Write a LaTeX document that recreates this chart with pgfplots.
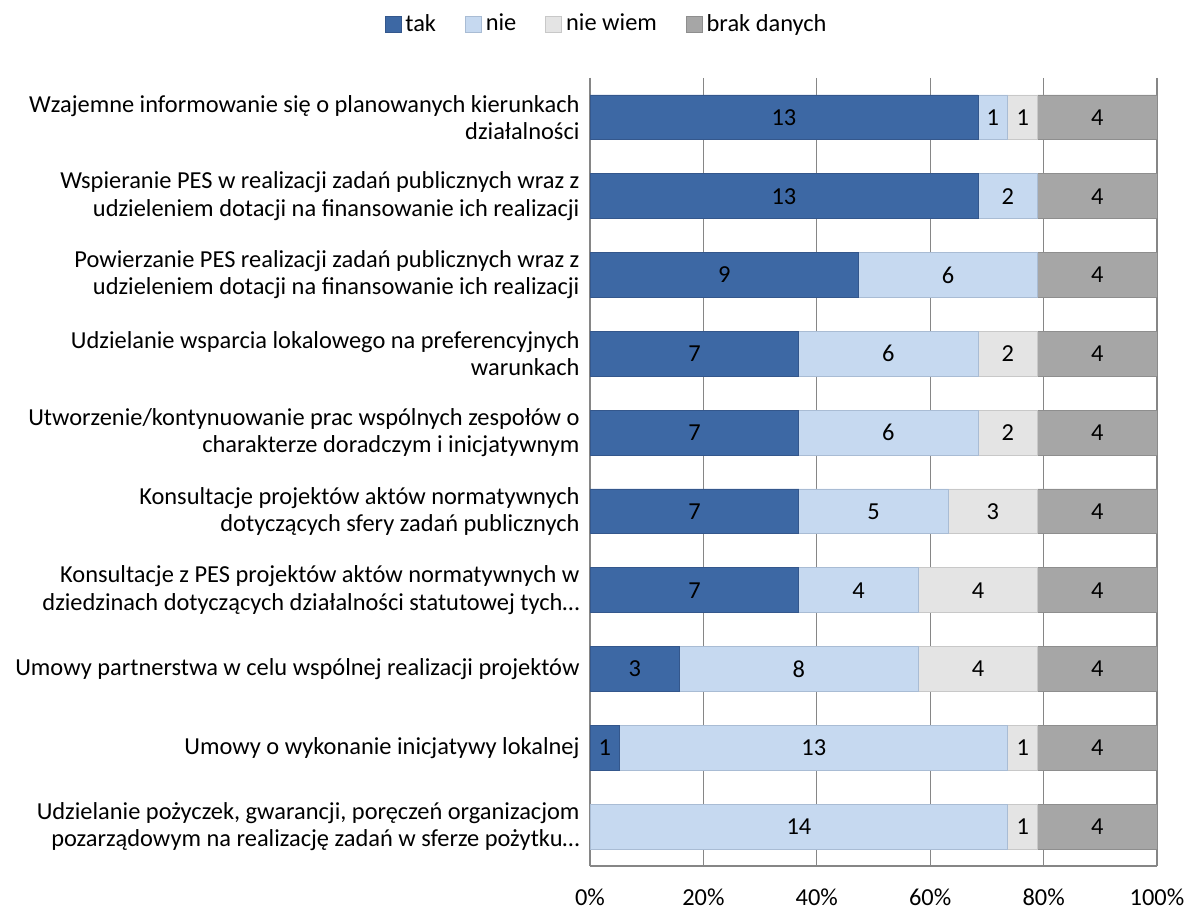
\documentclass[border=0pt]{standalone}
\usepackage{pgfplots}
\pgfplotsset{compat=1.18}
\usepackage{pgfplotstable}
\usepackage{fontspec}
\setmainfont{Carlito}
\definecolor{takc}{HTML}{3D68A4}
\definecolor{takd}{HTML}{34578C}
\definecolor{niec}{HTML}{C6D9F0}
\definecolor{nied}{HTML}{A9BCD4}
\definecolor{niewc}{HTML}{E4E4E4}
\definecolor{niewd}{HTML}{C8C8C8}
\definecolor{brakc}{HTML}{A6A6A6}
\definecolor{brakd}{HTML}{8E8E8E}
\definecolor{gridc}{HTML}{868686}

\pgfplotstableread{
y tak nie niewiem brak
0 13 1 1 4
1 13 2 0 4
2 9 6 0 4
3 7 6 2 4
4 7 6 2 4
5 7 5 3 4
6 7 4 4 4
7 3 8 4 4
8 1 13 1 4
9 0 14 1 4
}\data

\newcommand\chartfont{\fontsize{12.2bp}{13.6bp}\selectfont}

\pgfplotsset{
  common/.style={
    at={(295bp,23bp)}, anchor=south west,
    scale only axis, width=283.5bp, height=394bp,
    xmin=0, xmax=19, ymin=-0.5, ymax=9.5, y dir=reverse,
    /pgf/number format/assume math mode=true,
  },
}

\begin{document}
\chartfont
\begin{tikzpicture}
\useasboundingbox (0,0) rectangle (594bp,456bp);
\begin{axis}[
  common,
  xbar stacked, bar width=0.57,
  axis x line*=bottom, axis y line*=left,
  axis line style={draw=gridc, line width=0.6pt},
  xtick={0,3.8,7.6,11.4,15.2,19},
  xticklabels={0\%,20\%,40\%,60\%,80\%,100\%},
  xticklabel style={yshift=-7bp, font=\chartfont},
  ytick={0,...,9},
  yticklabels={
    {Wzajemne informowanie się o planowanych kierunkach\\działalności},
    {Wspieranie PES w realizacji zadań publicznych wraz z\\udzieleniem dotacji na finansowanie ich realizacji},
    {Powierzanie PES realizacji zadań publicznych wraz z\\udzieleniem dotacji na finansowanie ich realizacji},
    {Udzielanie wsparcia lokalowego na preferencyjnych\\warunkach},
    {Utworzenie/kontynuowanie prac wspólnych zespołów o\\charakterze doradczym i inicjatywnym},
    {Konsultacje projektów aktów normatywnych\\dotyczących sfery zadań publicznych},
    {Konsultacje z PES projektów aktów normatywnych w\\dziedzinach dotyczących działalności statutowej tych…},
    {Umowy partnerstwa w celu wspólnej realizacji projektów},
    {Umowy o wykonanie inicjatywy lokalnej},
    {Udzielanie pożyczek, gwarancji, poręczeń organizacjom\\pozarządowym na realizację zadań w sferze pożytku…}
  },
  yticklabel style={align=right, xshift=-1bp, font=\chartfont},
  major tick length=0pt,
  xmajorgrids, grid style={draw=gridc, line width=0.6pt},
  legend style={at={(0.031,1.068)}, anchor=center, draw=none, fill=none,
    legend columns=4, font=\chartfont,
    /tikz/every even column/.append style={column sep=12.5bp},
    legend cell align=left},
  legend image code/.code={\fill[#1] (-1bp,-3.8bp) rectangle (7bp,3.8bp);},
]
\addplot[fill=takc, draw=takd, line width=0.4pt] table[x=tak, y=y] \data;
\addlegendentry{tak}
\addplot[fill=niec, draw=nied, line width=0.4pt] table[x=nie, y=y] \data;
\addlegendentry{nie}
\addplot[fill=niewc, draw=niewd, line width=0.4pt] table[x=niewiem, y=y] \data;
\addlegendentry{nie wiem}
\addplot[fill=brakc, draw=brakd, line width=0.4pt] table[x=brak, y=y] \data;
\addlegendentry{brak danych}
\end{axis}
\begin{axis}[
  common, hide axis,
  nodes near coords={\pgfmathfloatifflags{\pgfplotspointmeta}{0}{}{\pgfmathprintnumber{\pgfplotspointmeta}}},
  nodes near coords style={anchor=center, text=black, font=\chartfont},
]
\addplot[draw=none, point meta=\thisrow{tak}] table[x expr=\thisrow{tak}/2, y=y] \data;
\addplot[draw=none, point meta=\thisrow{nie}] table[x expr=\thisrow{tak}+\thisrow{nie}/2, y=y] \data;
\addplot[draw=none, point meta=\thisrow{niewiem}] table[x expr=\thisrow{tak}+\thisrow{nie}+\thisrow{niewiem}/2, y=y] \data;
\addplot[draw=none, point meta=\thisrow{brak}] table[x expr=\thisrow{tak}+\thisrow{nie}+\thisrow{niewiem}+\thisrow{brak}/2, y=y] \data;
\end{axis}
\end{tikzpicture}
\end{document}
